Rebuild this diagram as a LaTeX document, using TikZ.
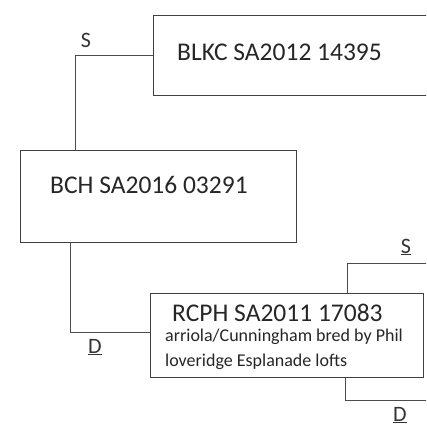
\documentclass[tikz,border=0pt]{standalone}
\usepackage{fontspec}
\setmainfont{Carlito}
\usetikzlibrary{positioning}
\tikzset{
  pedbox/.style={draw=black!75, line width=0.9pt, anchor=north west, inner sep=0pt},
  pedname/.style={anchor=west, inner sep=0pt, text=black!85, font=\fontsize{25.5}{28}\selectfont},
  pednote/.style={anchor=north west, inner sep=0pt, align=left, text=black!85, font=\fontsize{18}{25}\selectfont},
  pedline/.style={draw=black!70, line width=0.8pt},
  sexmark/.style={inner sep=0pt, text=black!80, font=\fontsize{22}{22}\selectfont}
}
\begin{document}
\begin{tikzpicture}[x=1pt, y=-1pt]
\useasboundingbox (0,0) rectangle (426,427);
\clip (0,0) rectangle (426,427);
% the three birds
\node [pedbox, minimum width=300pt, minimum height=80pt] (blkc) at (153,15) {};
\node [pedname] (blkctxt) at ([shift={(24pt,-37pt)}]blkc.north west) {BLKC SA2012 14395};
\node [pedbox, minimum width=276pt, minimum height=92pt] (bch) at (20,150) {};
\node [pedname] (bchtxt) at ([shift={(30pt,-35pt)}]bch.north west) {BCH SA2016 03291};
\node [pedbox, minimum width=273pt, minimum height=84pt] (rcph) at (150,293) {};
\node [pedname] (rcphtxt) at ([shift={(22pt,-20pt)}]rcph.north west) {RCPH SA2011 17083};
\node [pednote] (rcphnote) at ([shift={(15pt,-36pt)}]rcph.north west) {arriola/Cunningham bred by Phil\\loveridge Esplanade lofts};
% lines to sire and dam
\coordinate (sire2) at (440,263);
\coordinate (dam2) at (440,400);
\draw [pedline] (blkc.west) -| ([xshift=55pt]bch.north west);
\draw [pedline] ([xshift=50pt]bch.south west) |- ([yshift=3pt]rcph.west);
\draw [pedline] ([xshift=197pt]rcph.north west) |- (sire2);
\draw [pedline] ([xshift=195pt]rcph.south west) |- (dam2);
\node [sexmark] (s1) at (86,40) {S};
\node [sexmark] (d1) at (95,347) {\underline{D}};
\node [sexmark] (s2) at (406,247) {\underline{S}};
\node [sexmark] (d2) at (400,415) {\underline{D}};
\end{tikzpicture}
\end{document}
